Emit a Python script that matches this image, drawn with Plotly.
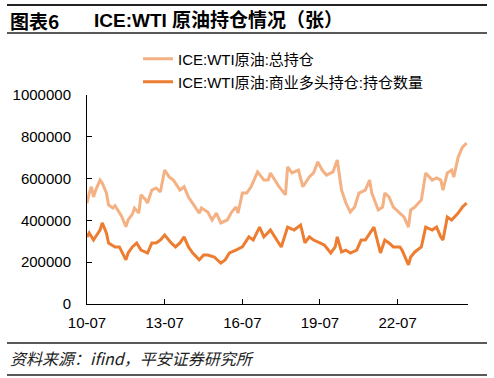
import plotly.graph_objects as go

# ---- data (values in contracts) ----
total_dates = ["2010-07","2010-08","2010-09","2010-10","2010-11","2011-01","2011-02","2011-04","2011-05","2011-07",
               "2011-08","2011-10","2011-11","2012-01","2012-02","2012-04","2012-05","2012-07","2012-08","2012-10",
               "2012-11","2013-01","2013-03","2013-05","2013-07","2013-09","2013-11","2014-02","2014-04","2014-06",
               "2014-08","2014-11","2014-12","2015-03","2015-05","2015-07","2015-09","2015-12","2016-02","2016-04",
               "2016-05","2016-07","2016-09","2016-11","2017-01","2017-02","2017-05","2017-07","2017-08","2017-10",
               "2017-12","2018-03","2018-04","2018-06","2018-09","2018-11","2019-02","2019-04","2019-06","2019-08",
               "2019-10","2020-01","2020-03","2020-05","2020-07","2020-09","2020-11","2021-01","2021-04","2021-06",
               "2021-07","2021-10","2021-12","2022-01","2022-03","2022-05","2022-08","2022-10","2022-12","2023-01",
               "2023-03","2023-06","2023-08","2023-11","2024-01","2024-03","2024-04","2024-06","2024-08","2024-09",
               "2024-11","2025-01","2025-03"]
total_values = [482,530,561,512,545,593,579,531,474,459,
                470,440,420,370,402,430,459,435,522,500,
                483,545,555,536,641,608,593,545,561,512,
                483,435,459,440,402,435,388,402,440,464,
                435,531,531,561,608,632,593,593,627,593,
                561,522,656,627,641,561,608,627,680,641,
                617,632,689,545,483,440,464,531,545,593,
                531,450,464,531,512,464,435,416,368,450,
                464,498,627,593,603,593,545,627,641,608,
                703,751,770]

comm_dates = ["2010-07","2010-08","2010-10","2011-01","2011-02","2011-04","2011-05","2011-08","2011-10","2012-01",
              "2012-02","2012-04","2012-06","2012-08","2012-11","2013-01","2013-03","2013-05","2013-07","2013-10",
              "2013-12","2014-02","2014-04","2014-06","2014-08","2014-11","2015-01","2015-03","2015-06","2015-09",
              "2015-11","2016-01","2016-04","2016-07","2016-10","2016-12","2017-03","2017-05","2017-08","2017-10",
              "2018-01","2018-04","2018-07","2018-10","2018-12","2019-02","2019-04","2019-07","2019-09","2019-12",
              "2020-02","2020-03","2020-05","2020-07","2020-09","2020-12","2021-02","2021-04","2021-07","2021-08",
              "2021-11","2022-01","2022-03","2022-05","2022-08","2022-09","2022-12","2023-01","2023-03","2023-06",
              "2023-08","2023-11","2024-01","2024-03","2024-04","2024-06","2024-08","2024-11","2025-01","2025-03"]
comm_values = [321,340,306,354,388,340,292,273,273,211,
               244,273,292,258,244,292,292,306,330,292,
               273,292,321,273,244,211,234,234,225,196,
               211,244,258,273,321,306,368,321,354,321,
               273,368,354,378,292,321,306,292,282,244,
               273,321,249,258,244,258,306,306,354,368,
               244,306,292,273,273,258,187,225,249,273,
               368,354,368,321,306,416,402,435,464,483]

tick_dates = ["2010-07-01","2013-07-01","2016-07-01","2019-07-01","2022-07-01"]
tick_labels = ["10-07","13-07","16-07","19-07","22-07"]

name_total = "ICE:WTI原油:总持仓"
name_comm = "ICE:WTI原油:商业多头持仓:持仓数量"

FONT = "Liberation Sans, Noto Sans CJK SC, Arial, sans-serif"
W, H = 494, 378
L, R, T, B = 87, 26, 95, 74
PW, PH = W - L - R, H - T - B

def px(x):
    return (x - L) / PW

def py(y):
    return (H - B - y) / PH

fig = go.Figure()
fig.add_trace(go.Scatter(x=total_dates, y=[v * 1000 for v in total_values], mode="lines",
                         name=name_total, legend="legend", line=dict(color="#F4B183", width=3)))
fig.add_trace(go.Scatter(x=comm_dates, y=[v * 1000 for v in comm_values], mode="lines",
                         name=name_comm, legend="legend2", line=dict(color="#ED7D31", width=3)))

leg_common = dict(xanchor="left", yanchor="middle", bgcolor="rgba(0,0,0,0)",
                  font=dict(size=15, family=FONT), itemwidth=30, borderwidth=0)

fig.update_layout(
    width=W, height=H,
    margin=dict(l=L, r=R, t=T, b=B, autoexpand=False),
    paper_bgcolor="white", plot_bgcolor="white",
    font=dict(family=FONT, size=15, color="#000000"),
    showlegend=True,
    legend=dict(x=px(138), y=py(59), **leg_common),
    legend2=dict(x=px(138), y=py(82), **leg_common),
    xaxis=dict(type="date", range=["2010-07-01", "2025-03-20"], tickvals=tick_dates, ticktext=tick_labels,
               showgrid=False, zeroline=False, showline=True, linecolor="#000000", linewidth=1,
               ticks="inside", ticklen=5, tickcolor="#000000", tickfont=dict(size=15), tickangle=0,
               ticklabelstandoff=5),
    yaxis=dict(range=[0, 1000000], dtick=200000, tickformat="d", showgrid=False, zeroline=False,
               showline=True, linecolor="#000000", linewidth=1, ticks="inside", ticklen=5,
               tickcolor="#000000", tickfont=dict(size=15), ticklabelstandoff=12),
)

# title and footer
fig.add_annotation(xref="paper", yref="paper", x=px(8), y=py(21), xanchor="left", yanchor="middle",
                   text="<b>图表6</b>", showarrow=False, font=dict(size=19, family="Noto Sans CJK SC", color="#000"))
fig.add_annotation(xref="paper", yref="paper", x=px(92), y=py(21), xanchor="left", yanchor="middle",
                   text="<b>ICE:WTI 原油持仓情况（张）</b>", showarrow=False,
                   font=dict(size=19, family="Liberation Sans, Noto Sans CJK SC", color="#000"))
fig.add_annotation(xref="paper", yref="paper", x=px(8), y=py(358), xanchor="left", yanchor="middle",
                   text="<i>资料来源：ifind，平安证券研究所</i>", showarrow=False,
                   font=dict(size=16, family="Noto Sans CJK SC", color="#222"))
for yy, w in [(5, 2), (33, 1.5), (343, 1.5), (375, 1.5)]:
    fig.add_shape(type="line", xref="paper", yref="paper", x0=px(7), x1=px(487),
                  y0=py(yy), y1=py(yy), line=dict(color="#222", width=w))

fig.write_html("out.html", config={"displayModeBar": False},
               post_script="document.body.style.margin='0';document.body.style.overflow='hidden';")
